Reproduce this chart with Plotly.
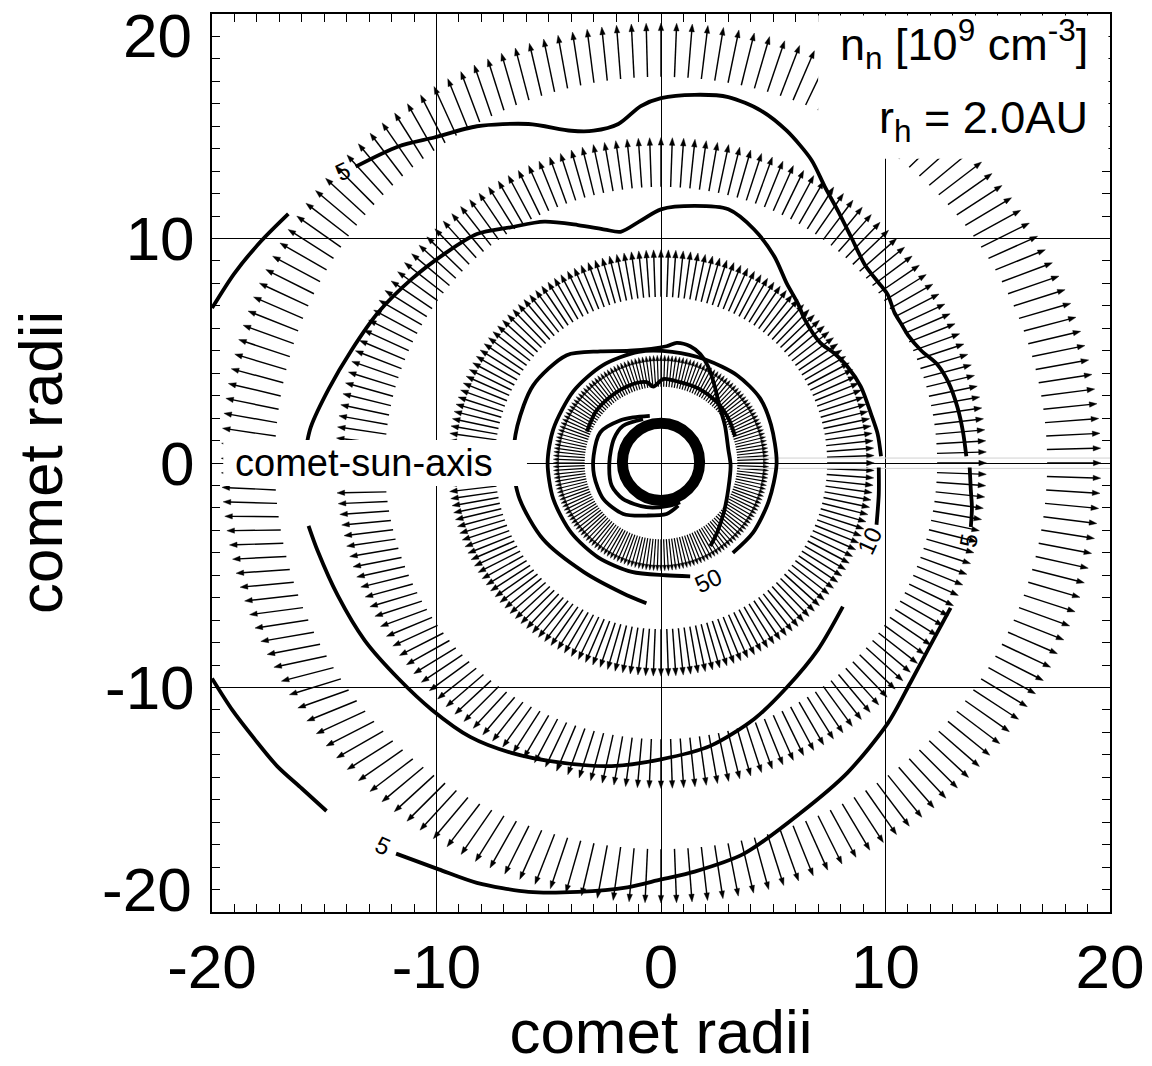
import math
import plotly.graph_objects as go

FONT = "Liberation Sans, Arial, Helvetica, sans-serif"

# ---------------- data ----------------
# velocity arrows: 4 rings of equally spaced arrows
ring_tail_r = [3.4, 7.4, 12.3, 17.2]
ring_length = [1.4, 2.1, 2.2, 2.4]
arrows_per_ring = 180
# deflection of arrows from radial direction (deg), read every 30 deg (0..360)
defl_angles = [0, 30, 60, 90, 120, 150, 180, 210, 240, 270, 300, 330, 360]
ring_defl = [
    [0, 0, 0, 0, 0, 0, 0, 0, 0, 0, 0, 0, 0],
    [0, 0, 0, 0, 0, 0, 0, -5, -5, 0, 0, 0, 0],
    [0, -5, 0, 0, 0, 0, -3, -12, -8, 0, 0, 0, 0],
    [0, -8, -5, 0, -8, 0, -5, -18, -10, 0, 3, 3, 0],
]

# density contours (10^9 cm^-3), traced pieces
c5_top_x = [-13.6, -11.7, -10.1, -8.2, -5.9, -4.0, -3.0, -1.9, -0.9, 0.0, 1.5, 3.0, 4.45, 5.6, 6.7, 7.3,
            7.9, 8.5, 9.1, 9.8, 10.1, 10.4, 10.7, 11.0, 11.6, 12.3, 12.8, 13.2, 13.45, 13.6]
c5_top_y = [13.2, 14.1, 14.5, 15.0, 15.1, 14.8, 14.8, 15.1, 15.9, 16.25, 16.4, 16.3, 15.7, 14.8, 13.5, 12.3,
            11.2, 10.0, 8.8, 7.9, 7.5, 6.7, 6.2, 5.7, 5.0, 4.4, 3.6, 2.5, 1.4, 0.3]
c5_right_x = [13.75, 13.8, 13.85, 13.8]
c5_right_y = [-0.2, -1.2, -2.0, -2.85]
c5_low_x = [12.9, 11.9, 11.1, 10.1, 8.3, 6.2, 3.7, 1.5, 0.0, -1.5, -3.7, -5.9, -8.2, -9.9, -11.8]
c5_low_y = [-6.45, -8.3, -9.8, -11.6, -13.8, -15.6, -17.4, -18.2, -18.55, -18.9, -19.1, -19.1, -18.7, -18.1, -17.4]
c5_ll_x = [-14.9, -16.0, -17.1, -18.1, -19.1, -20.0]
c5_ll_y = [-15.5, -14.5, -13.5, -12.3, -11.0, -9.6]
c5_ul_x = [-16.6, -17.8, -19.0, -20.0]
c5_ul_y = [11.1, 9.9, 8.45, 6.9]

c10_top_x = [9.8, 9.65, 9.35, 8.9, 8.3, 7.7, 7.1, 6.4, 6.1, 5.6, 5.05, 4.15, 3.0, 1.5, 0.0, -0.9, -1.8,
             -2.5, -3.7, -5.2, -6.7, -8.2, -9.6, -11.1, -12.6, -13.8, -14.8, -15.6, -15.75]
c10_top_y = [0.3, 1.3, 2.2, 3.4, 4.3, 4.9, 5.35, 6.4, 7.1, 8.0, 9.2, 10.4, 11.3, 11.45, 11.3, 10.8, 10.3,
             10.4, 10.6, 10.75, 10.5, 10.2, 9.35, 8.2, 6.7, 5.0, 3.3, 1.6, 1.0]
c10_low_x = [-15.7, -15.3, -14.4, -13.2, -11.7, -10.2, -8.5, -6.7, -4.45, -2.2, 0.0, 2.2, 4.15, 5.6, 7.0, 8.1]
c10_low_y = [-2.8, -3.9, -5.9, -7.9, -9.6, -11.0, -12.2, -12.9, -13.35, -13.5, -13.2, -12.6, -11.4, -10.0, -8.3, -6.4]
c10_right_x = [9.7, 9.7, 9.6]
c10_right_y = [-0.2, -1.4, -2.75]

c20_x = [2.2, 2.5, 2.8, 3.0, 3.1, 3.0, 2.85, 2.6, 2.4, 2.1, 1.75, 1.3, 0.7, 0.25, -1.4, -2.7, -4.2, -5.7,
         -6.4, -6.6, -6.3, -5.25, -3.45, -1.7, -0.65]
c20_y = [-3.7, -3.1, -2.2, -1.15, -0.1, 0.6, 1.66, 2.55, 3.4, 4.3, 4.85, 5.2, 5.35, 5.2, 5.0, 4.97, 4.8, 3.45,
         1.65, 0.0, -1.6, -3.4, -4.85, -5.8, -6.25]

c50_x = [3.2, 4.1, 4.8, 5.15, 4.9, 4.4, 3.4, 2.0, 0.5, -1.0, -2.6, -3.9, -4.8, -5.05, -4.8, -4.0, -2.8,
         -1.3, 0.2, 1.3]
c50_y = [-4.0, -3.1, -1.7, 0.0, 1.7, 2.9, 3.9, 4.6, 4.95, 4.95, 4.35, 3.2, 1.5, 0.0, -1.6, -3.1, -4.2,
         -4.85, -5.0, -5.05]

c100_x = [-3.3, -2.9, -2.2, -1.3, -0.64, -0.34, 0.1, 0.85, 1.7, 2.5, 3.0, 3.3]
c100_y = [1.4, 2.3, 3.0, 3.5, 3.6, 3.4, 3.74, 3.6, 3.3, 2.7, 2.0, 1.2]

cres_a_x = [-0.8, -1.7, -2.1, -2.3, -2.2, -1.7, -0.65, 0.4, 0.85]
cres_a_y = [1.95, 1.65, 1.07, 0.03, -1.0, -1.6, -1.97, -1.9, -1.75]
cres_b_x = [-0.5, -1.23, -1.8, -2.7, -3.0, -2.98, -2.57, -1.68, -0.64, 0.25, 0.77]
cres_b_y = [2.1, 2.03, 1.9, 1.37, 0.33, -0.56, -1.6, -2.27, -2.34, -2.27, -1.9]

nucleus_center = (0.0, 0.05)
nucleus_radius = 1.72

contour_labels = [
    ("5", -14.2, 13.0, -25),
    ("5", 13.7, -3.45, -80),
    ("10", 9.3, -3.45, -65),
    ("50", 2.1, -5.25, -25),
    ("5", -12.4, -17.05, 25),
]

x_tick_vals = [-20, -10, 0, 10, 20]
x_tick_text = ["-20", "-10", "0", "10", "20"]
y_tick_vals = [-10, 0, 10]
y_tick_text = ["-10", "0", "10"]
y_end_labels = [("20", 19.05), ("-20", -19.0)]

# ---------------- figure ----------------
fig = go.Figure()


def interp_defl(vals, ang):
    for j in range(len(defl_angles) - 1):
        a0, a1 = defl_angles[j], defl_angles[j + 1]
        if a0 <= ang <= a1:
            t = (ang - a0) / (a1 - a0)
            return vals[j] * (1 - t) + vals[j + 1] * t
    return vals[-1]


for k in range(4):
    shaft_x, shaft_y, head_x, head_y = [], [], [], []
    r0 = ring_tail_r[k]
    L = ring_length[k]
    hl = 0.34 if k > 0 else 0.24
    hw = 0.12 if k > 0 else 0.075
    for i in range(arrows_per_ring):
        ang = 360.0 * i / arrows_per_ring
        th = math.radians(ang)
        phi = th + math.radians(interp_defl(ring_defl[k], ang))
        bx, by = r0 * math.cos(th), r0 * math.sin(th)
        ux, uy = math.cos(phi), math.sin(phi)
        tx, ty = bx + L * ux, by + L * uy
        sx, sy = tx - 0.8 * hl * ux, ty - 0.8 * hl * uy
        shaft_x += [bx, sx, None]
        shaft_y += [by, sy, None]
        cx, cy = tx - hl * ux, ty - hl * uy
        head_x += [tx, cx - hw * uy, cx + hw * uy, tx, None]
        head_y += [ty, cy + hw * ux, cy - hw * ux, ty, None]
    fig.add_trace(go.Scatter(x=shaft_x, y=shaft_y, mode="lines",
                             line=dict(color="black", width=1.45 if k > 0 else 1.2), hoverinfo="skip"))
    fig.add_trace(go.Scatter(x=head_x, y=head_y, mode="lines", fill="toself", fillcolor="black",
                             line=dict(color="black", width=0.4), hoverinfo="skip"))

# faint seam lines along the comet-sun axis (right side)
fig.add_trace(go.Scatter(x=[3.5, 20, None, 3.5, 20], y=[0.22, 0.22, None, -0.24, -0.24], mode="lines",
                         line=dict(color="#d0d0d0", width=1), hoverinfo="skip"))

pieces = [
    (c5_top_x, c5_top_y), (c5_right_x, c5_right_y), (c5_low_x, c5_low_y), (c5_ll_x, c5_ll_y),
    (c5_ul_x, c5_ul_y), (c10_top_x, c10_top_y), (c10_low_x, c10_low_y), (c10_right_x, c10_right_y),
    (c20_x, c20_y), (c50_x, c50_y), (c100_x, c100_y), (cres_a_x, cres_a_y), (cres_b_x, cres_b_y),
]
for px, py in pieces:
    fig.add_trace(go.Scatter(x=px, y=py, mode="lines",
                             line=dict(color="black", width=3.8, shape="spline", smoothing=0.8),
                             hoverinfo="skip"))

shapes = []
cx0, cy0 = nucleus_center
shapes.append(dict(type="circle", xref="x", yref="y", x0=cx0 - nucleus_radius, x1=cx0 + nucleus_radius,
                   y0=cy0 - nucleus_radius, y1=cy0 + nucleus_radius, line=dict(color="black", width=11),
                   layer="above"))
# white label boxes
shapes.append(dict(type="rect", xref="x", yref="y", x0=7.0, x1=19.93, y0=13.55, y1=19.93,
                   fillcolor="white", line=dict(width=0), layer="above"))
shapes.append(dict(type="rect", xref="x", yref="y", x0=-19.5, x1=-5.97, y0=-1.02, y1=1.02,
                   fillcolor="white", line=dict(width=0), layer="above"))

annotations = []
for txt, x, y, ang in contour_labels:
    annotations.append(dict(x=x, y=y, xref="x", yref="y", text=txt, showarrow=False, textangle=ang,
                            font=dict(family=FONT, size=24, color="black")))
annotations.append(dict(x=-19.05, y=0, xref="x", yref="y", text="comet-sun-axis", showarrow=False,
                        xanchor="left", yanchor="middle", font=dict(family=FONT, size=38, color="black")))
annotations.append(dict(x=19.1, y=18.65, xref="x", yref="y",
                        text="n<sub>n</sub> [10<sup>9</sup> cm<sup>-3</sup>]", showarrow=False,
                        xanchor="right", yanchor="middle", font=dict(family=FONT, size=45, color="black")))
annotations.append(dict(x=19.1, y=15.25, xref="x", yref="y", text="r<sub>h</sub> = 2.0AU", showarrow=False,
                        xanchor="right", yanchor="middle", font=dict(family=FONT, size=45, color="black")))
# end labels of the y axis (drawn inward, as in the original)
for txt, yv in y_end_labels:
    annotations.append(dict(x=-0.0205, y=yv, xref="paper", yref="y", text=txt, showarrow=False,
                            xanchor="right", yanchor="middle", font=dict(family=FONT, size=62, color="black")))
# y axis title
annotations.append(dict(x=-0.1915, y=0.5, xref="paper", yref="paper", text="comet radii", showarrow=False,
                        textangle=-90, xanchor="center", yanchor="middle",
                        font=dict(family=FONT, size=62, color="black")))

axis_common = dict(
    range=[-20, 20], tickmode="array",
    ticks="inside", ticklen=8, tickwidth=1, tickcolor="black",
    minor=dict(dtick=1, tick0=0, ticks="inside", ticklen=8, tickwidth=1, tickcolor="black", showgrid=False),
    showgrid=True, gridcolor="black", gridwidth=1, zeroline=False,
    showline=True, linecolor="black", linewidth=2, mirror="allticks",
    tickfont=dict(family=FONT, size=62, color="black"), automargin=False,
)

fig.update_layout(
    width=1152, height=1066,
    margin=dict(l=212, r=42, t=14, b=154),
    paper_bgcolor="white", plot_bgcolor="white",
    showlegend=False,
    shapes=shapes, annotations=annotations,
    xaxis=dict(axis_common, tickvals=x_tick_vals, ticktext=x_tick_text,
               title=dict(text="comet radii", font=dict(family=FONT, size=62, color="black"), standoff=0),
               ticklabelstandoff=0),
    yaxis=dict(axis_common, tickvals=y_tick_vals, ticktext=y_tick_text, ticklabelstandoff=3),
)

fig.write_html("out.html")
